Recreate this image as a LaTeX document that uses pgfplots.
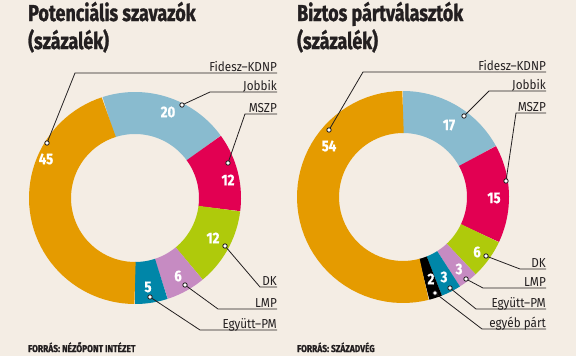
\documentclass[border=0pt]{standalone}
\usepackage{pgfplots}
\pgfplotsset{compat=1.18}
\usepackage{pgfplotstable}
\usepackage{fontspec}
\setmainfont{Fira Sans}
\newfontfamily\titlefont[FakeStretch=0.78, FakeBold=1.2]{Fira Sans}
\newfontfamily\lblfont[FakeStretch=0.9]{Fira Sans}
\newfontfamily\numfont[FakeStretch=0.85, FakeBold=0.6]{Fira Sans}
\newfontfamily\srcfont[FakeStretch=0.84, FakeBold=0.8]{Fira Sans}

\definecolor{bg}{RGB}{244,237,228}
\definecolor{cfidesz}{RGB}{229,155,0}
\definecolor{cjobbik}{RGB}{137,187,207}
\definecolor{cmszp}{RGB}{226,0,82}
\definecolor{cdk}{RGB}{175,202,11}
\definecolor{clmp}{RGB}{198,139,194}
\definecolor{cegyutt}{RGB}{0,134,168}
\definecolor{cegyeb}{RGB}{0,0,0}
\definecolor{lc}{RGB}{35,31,32}

\pgfplotstableread{
party value color
Jobbik 20 cjobbik
MSZP 12 cmszp
DK 12 cdk
LMP 6 clmp
EgyuttPM 5 cegyutt
FideszKDNP 45 cfidesz
}\potencialis

\pgfplotstableread{
party value color
Jobbik 17 cjobbik
MSZP 15 cmszp
DK 6 cdk
LMP 3 clmp
EgyuttPM 3 cegyutt
egyeb 2 cegyeb
FideszKDNP 54 cfidesz
}\biztos

\newcommand\drawring[2]{%
  \pgfplotstablegetrowsof{#1}%
  \pgfmathtruncatemacro\nrows{\pgfplotsretval-1}%
  \xdef\segstart{#2}%
  \pgfplotsforeachungrouped \i in {0,...,\nrows}{%
    \pgfplotstablegetelem{\i}{value}\of{#1}\let\segval\pgfplotsretval
    \pgfplotstablegetelem{\i}{color}\of{#1}\let\segcol\pgfplotsretval
    \pgfmathsetmacro\segend{\segstart-3.6*\segval}%
    \edef\temp{\noexpand\addplot[draw=\segcol, line width=42pt, data cs=polar, domain=\segend:\segstart, samples=50] {85};}%
    \temp
    \xdef\segstart{\segend}%
  }%
}

\pgfplotsset{
  donut/.style={anchor=origin, x=1pt, y=1pt, xmin=-110, xmax=110, ymin=-110, ymax=110, hide axis, clip=false},
  leader/.style={lc, line width=0.8pt, mark=*, mark size=2.2pt, mark options={fill=white, draw=lc, line width=0.8pt, solid}, mark indices={1}},
}
\tikzset{
  lbl/.style={anchor=base east, inner sep=0pt, text=lc, font=\lblfont\fontsize{13}{15}\selectfont},
  num/.style={inner sep=0pt, text=white, font=\numfont\bfseries\fontsize{15.5}{17}\selectfont},
  ttl/.style={anchor=base west, inner sep=0pt, text=lc, font=\titlefont\bfseries\fontsize{23}{28}\selectfont},
  src/.style={anchor=base west, inner sep=0pt, text=lc, font=\srcfont\bfseries\fontsize{10}{12}\selectfont},
}

\begin{document}
\begin{tikzpicture}[x=1pt,y=1pt]
\fill[bg] (0,0) rectangle (576,-356);

\node[ttl] at (28,-21) {Potenciális szavazók};
\node[ttl] at (28,-49) {(százalék)};
\node[ttl] at (297,-21) {Biztos pártválasztók};
\node[ttl] at (297,-49) {(százalék)};
\node[src] at (28,-352) {FORRÁS: NÉZŐPONT INTÉZET};
\node[src] at (297,-352) {FORRÁS: SZÁZADVÉG};

% ---------- left donut ----------
\begin{axis}[donut, at={(135,-198)}]
\drawring{\potencialis}{108}
\addplot[leader] coordinates {(-88,55) (-60,125) (142,125)};
\addplot[leader] coordinates {(47,93) (75,106) (142,106)};
\addplot[leader] coordinates {(93,35) (110,84) (142,84)};
\addplot[leader] coordinates {(90,-48) (125,-89) (142,-89)};
\addplot[leader] coordinates {(50,-87) (83,-111) (142,-111)};
\addplot[leader] coordinates {(15,-99) (65,-132) (142,-132)};
\node[lbl] at (axis cs:142,127) {Fidesz–KDNP};
\node[lbl] at (axis cs:142,108) {Jobbik};
\node[lbl] at (axis cs:142,86) {MSZP};
\node[lbl] at (axis cs:142,-87) {DK};
\node[lbl] at (axis cs:142,-109) {LMP};
\node[lbl] at (axis cs:142,-130) {Együtt–PM};
\node[num] at (axis cs:-89,39) {45};
\node[num] at (axis cs:33,86) {20};
\node[num] at (axis cs:93,18) {12};
\node[num] at (axis cs:78,-40) {12};
\node[num] at (axis cs:43,-78) {6};
\node[num] at (axis cs:13,-89) {5};
\end{axis}

% ---------- right donut ----------
\begin{axis}[donut, at={(403,-197)}]
\drawring{\biztos}{90}
\addplot[leader] coordinates {(-74,67) (-40,125) (143,125)};
\addplot[leader] coordinates {(61,81) (86,106) (143,106)};
\addplot[leader] coordinates {(103,16) (113,84) (143,84)};
\addplot[leader] coordinates {(83,-59) (117,-72) (143,-72)};
\addplot[leader] coordinates {(63,-82) (80,-91) (143,-91)};
\addplot[leader] coordinates {(47,-91) (73,-112) (143,-112)};
\addplot[leader] coordinates {(32,-96) (79,-132) (143,-132)};
\node[lbl] at (axis cs:143,127) {Fidesz–KDNP};
\node[lbl] at (axis cs:143,108) {Jobbik};
\node[lbl] at (axis cs:143,86) {MSZP};
\node[lbl] at (axis cs:143,-70) {DK};
\node[lbl] at (axis cs:143,-89) {LMP};
\node[lbl] at (axis cs:143,-110) {Együtt–PM};
\node[lbl] at (axis cs:143,-130) {egyéb párt};
\node[num] at (axis cs:-74,51) {54};
\node[num] at (axis cs:46,72) {17};
\node[num] at (axis cs:91,-1) {15};
\node[num] at (axis cs:74,-55) {6};
\node[num] at (axis cs:56,-72) {3};
\node[num] at (axis cs:41,-80) {3};
\node[num] at (axis cs:28,-82) {2};
\end{axis}
\end{tikzpicture}
\end{document}
